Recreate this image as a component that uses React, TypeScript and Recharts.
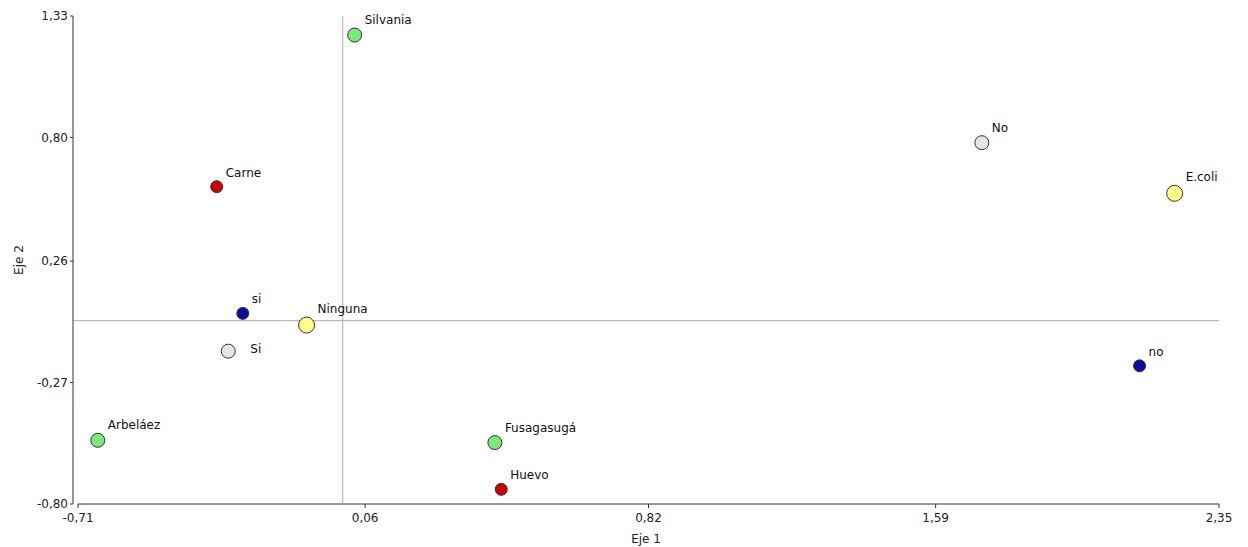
import {
  ScatterChart,
  Scatter,
  XAxis,
  YAxis,
  ReferenceLine,
} from "recharts";

// Coordenadas de las categorías en los dos primeros ejes
const municipios = ["Silvania", "Arbeláez", "Fusagasugá"];
const municipiosEje1 = [0.032, -0.657, 0.408];
const municipiosEje2 = [1.247, -0.522, -0.532];

const alimentos = ["Carne", "Huevo"];
const alimentosEje1 = [-0.338, 0.425];
const alimentosEje2 = [0.585, -0.736];

const respuestaMin = ["si", "no"];
const respuestaMinEje1 = [-0.268, 2.137];
const respuestaMinEje2 = [0.032, -0.197];

const respuestaMay = ["Si", "No"];
const respuestaMayEje1 = [-0.307, 1.714];
const respuestaMayEje2 = [-0.133, 0.777];

const bacterias = ["Ninguna", "E.coli"];
const bacteriasEje1 = [-0.097, 2.231];
const bacteriasEje2 = [-0.019, 0.556];

const xTicks = [-0.71, 0.06, 0.82, 1.59, 2.35];
const yTicks = [1.33, 0.8, 0.26, -0.27, -0.8];

const FONT = "'DejaVu Sans', sans-serif";

// etiquetas que van a la derecha del punto en vez de arriba
const labelRight = new Set(["Si"]);

const toPoints = (names: string[], xs: number[], ys: number[]) =>
  names.map((name, i) => ({ name, x: xs[i], y: ys[i] }));

const fmt = (v: number) => v.toFixed(2).replace(".", ",");

function makeShape(fill: string, r: number) {
  return (props: any) => {
    const { cx, cy, payload } = props;
    const right = labelRight.has(payload.name);
    return (
      <g>
        <circle cx={cx} cy={cy} r={r} fill={fill} stroke="#333" strokeWidth={1} />
        <text
          x={right ? cx + r + 15 : cx + r + 3}
          y={right ? cy + 2 : cy - r - 4}
          fontSize={12}
          fontFamily={FONT}
          fill="#111"
        >
          {payload.name}
        </text>
      </g>
    );
  };
}

export default function App() {
  return (
    <div style={{ position: "absolute", left: 0, top: 0, background: "#fff" }}>
      <ScatterChart
        width={1248}
        height={547}
        margin={{ top: 16, right: 29, bottom: 0, left: 0 }}
      >
        <XAxis
          type="number"
          dataKey="x"
          domain={[-0.71, 2.35]}
          ticks={xTicks}
          interval={0}
          padding={{ left: 5, right: 0 }}
          tickFormatter={fmt}
          axisLine={false}
          tickSize={4}
          tickMargin={5}
          tickLine={{ stroke: "#333" }}
          tick={{ fontSize: 12, fontFamily: FONT, fill: "#222" }}
          height={43}
          label={{
            value: "Eje 1",
            position: "insideBottom",
            offset: 4,
            style: { fontSize: 12, fontFamily: FONT, fill: "#222" },
          }}
        />
        <YAxis
          type="number"
          dataKey="y"
          domain={[-0.8, 1.33]}
          ticks={yTicks}
          interval={0}
          tickFormatter={fmt}
          width={73}
          tickSize={3}
          axisLine={{ stroke: "#333" }}
          tickLine={{ stroke: "#333" }}
          tick={{ fontSize: 12, fontFamily: FONT, fill: "#222" }}
          label={{
            value: "Eje 2",
            angle: -90,
            position: "insideLeft",
            offset: 19,
            style: { fontSize: 12, fontFamily: FONT, fill: "#222", textAnchor: "middle" },
          }}
        />
        <ReferenceLine
          segment={[
            { x: -0.71, y: -0.8 },
            { x: 2.35, y: -0.8 },
          ]}
          stroke="#333"
        />
        <ReferenceLine x={0} stroke="#aaa" />
        <ReferenceLine y={0} stroke="#aaa" />
        <Scatter
          data={toPoints(municipios, municipiosEje1, municipiosEje2)}
          shape={makeShape("#7aea7a", 7)}
          isAnimationActive={false}
        />
        <Scatter
          data={toPoints(alimentos, alimentosEje1, alimentosEje2)}
          shape={makeShape("#cc0000", 6)}
          isAnimationActive={false}
        />
        <Scatter
          data={toPoints(respuestaMin, respuestaMinEje1, respuestaMinEje2)}
          shape={makeShape("#0a0a9e", 6)}
          isAnimationActive={false}
        />
        <Scatter
          data={toPoints(respuestaMay, respuestaMayEje1, respuestaMayEje2)}
          shape={makeShape("#e4e4e4", 7)}
          isAnimationActive={false}
        />
        <Scatter
          data={toPoints(bacterias, bacteriasEje1, bacteriasEje2)}
          shape={makeShape("#ffff88", 8)}
          isAnimationActive={false}
        />
      </ScatterChart>
    </div>
  );
}
